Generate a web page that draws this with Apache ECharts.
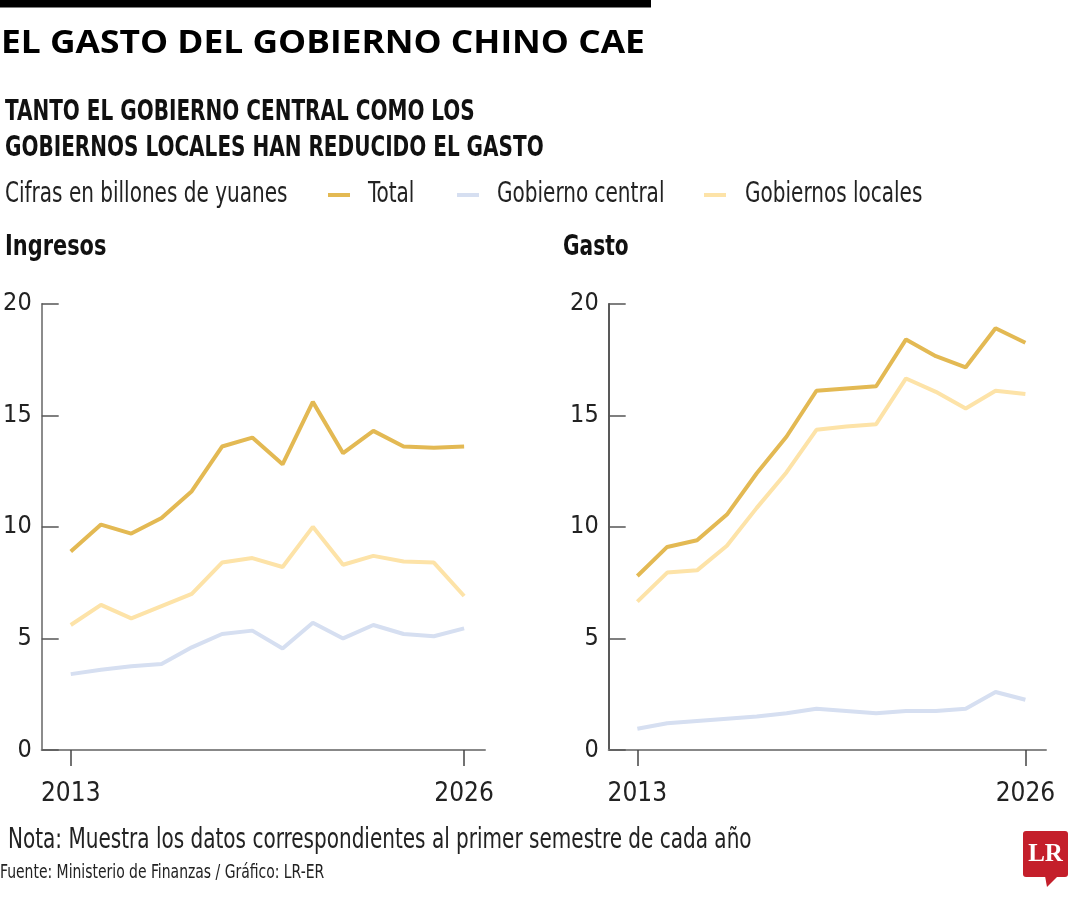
<!DOCTYPE html>
<html>
<head>
<meta charset="utf-8">
<title>El gasto del gobierno chino cae</title>
<script src="https://cdn.jsdelivr.net/npm/echarts@6.0.0/dist/echarts.min.js"></script>
<style>
    html, body { margin: 0; padding: 0; background: #fff; }
    #chart { width: 1080px; height: 900px; }
</style>
</head>
<body>
<div id="chart"></div>
<script>
    // datos: primer semestre de cada año, billones de yuanes
    var years = [2013, 2014, 2015, 2016, 2017, 2018, 2019, 2020, 2021, 2022, 2023, 2024, 2025, 2026];
    var yearTicks = [2013, 2026];

    var ingresosTotal   = [8.9, 10.1, 9.7, 10.4, 11.6, 13.6, 14.0, 12.8, 15.6, 13.3, 14.3, 13.6, 13.55, 13.6];
    var ingresosCentral = [3.4, 3.6, 3.75, 3.85, 4.6, 5.2, 5.35, 4.55, 5.7, 5.0, 5.6, 5.2, 5.1, 5.45];
    var ingresosLocales = [5.6, 6.5, 5.9, 6.45, 7.0, 8.4, 8.6, 8.2, 10.0, 8.3, 8.7, 8.45, 8.4, 6.9];

    var gastoTotal   = [7.8, 9.1, 9.4, 10.55, 12.4, 14.05, 16.1, 16.2, 16.3, 18.4, 17.65, 17.15, 18.9, 18.25];
    var gastoCentral = [0.95, 1.2, 1.3, 1.4, 1.5, 1.65, 1.85, 1.75, 1.65, 1.75, 1.75, 1.85, 2.6, 2.25];
    var gastoLocales = [6.65, 7.95, 8.05, 9.15, 10.85, 12.45, 14.35, 14.5, 14.6, 16.65, 16.05, 15.3, 16.1, 15.95];

    var NARROW = '"DejaVu Sans Condensed", "Liberation Sans Narrow", sans-serif';
    var SQ = 0.795; // apretar el texto como una condensada
    var colTotal = '#e3b953';
    var colCentral = '#d6dff1';
    var colLocales = '#fde3a8';

    function pairs(vals) {
        return years.map(function (y, i) { return [y, vals[i]]; });
    }

    function line(name, vals, color, idx) {
        return {
            name: name,
            type: 'line',
            xAxisIndex: idx,
            yAxisIndex: idx,
            data: pairs(vals),
            symbol: 'none',
            color: color,
            lineStyle: { color: color, width: 4 },
            emphasis: { disabled: true }
        };
    }

    function xAxis(idx) {
        return {
            type: 'value',
            gridIndex: idx,
            min: 2012.04,
            max: 2026.69,
            splitLine: { show: false },
            axisLine: { lineStyle: { color: '#888', width: 2 } },
            axisTick: { customValues: yearTicks, length: 16, lineStyle: { color: '#444', width: 1.5 } },
            axisLabel: {
                customValues: yearTicks,
                margin: 31,
                color: '#222',
                fontFamily: NARROW,
                fontSize: 26,
                formatter: function (v) { return String(v); }
            }
        };
    }

    function yAxis(idx, lineColor) {
        return {
            type: 'value',
            gridIndex: idx,
            min: 0,
            max: 20,
            interval: 5,
            splitLine: { show: false },
            axisLine: { show: true, lineStyle: { color: lineColor, width: 1.5 } },
            axisTick: { show: true, inside: true, length: 17, lineStyle: { color: '#555', width: 1.5 } },
            axisLabel: { margin: 10, color: '#222', fontFamily: NARROW, fontSize: 25 }
        };
    }

    function txt(x, y, text, font, color, sx) {
        return {
            type: 'text',
            x: x,
            y: y,
            scaleX: sx || 1,
            silent: true,
            style: { text: text, font: font, fill: color || '#111', textVerticalAlign: 'middle' }
        };
    }

    function key(x, color, label, tx) {
        return [
            { type: 'rect', silent: true, shape: { x: x, y: 193, width: 22, height: 4 }, style: { fill: color } },
            txt(tx, 195, label, '28px ' + NARROW, '#222', SQ)
        ];
    }

    var chart = echarts.init(document.getElementById('chart'), null, { renderer: 'canvas' });

    var option = {
        backgroundColor: '#fff',
        animation: false,
        textStyle: { fontFamily: NARROW },
        grid: [
            { left: 41.7, top: 303.7, width: 443.3, height: 446.3, outerBoundsMode: 'none' },
            { left: 608.7, top: 303.7, width: 437.3, height: 446.3, outerBoundsMode: 'none' }
        ],
        xAxis: [xAxis(0), xAxis(1)],
        yAxis: [yAxis(0, '#666'), yAxis(1, '#222')],
        series: [
            line('Gobierno central', ingresosCentral, colCentral, 0),
            line('Gobiernos locales', ingresosLocales, colLocales, 0),
            line('Total', ingresosTotal, colTotal, 0),
            line('Gobierno central', gastoCentral, colCentral, 1),
            line('Gobiernos locales', gastoLocales, colLocales, 1),
            line('Total', gastoTotal, colTotal, 1)
        ],
        graphic: [
            { type: 'rect', silent: true, shape: { x: 0, y: 0, width: 651, height: 7.5 }, style: { fill: '#000' } },
            txt(1, 44, 'EL GASTO DEL GOBIERNO CHINO CAE', 'bold 32px "Open Sans", sans-serif', '#000', 1.105),
            txt(5, 113, 'TANTO EL GOBIERNO CENTRAL COMO LOS', 'bold 28px ' + NARROW, '#111', SQ),
            txt(5, 148.5, 'GOBIERNOS LOCALES HAN REDUCIDO EL GASTO', 'bold 28px ' + NARROW, '#111', SQ),
            txt(5, 195, 'Cifras en billones de yuanes', '28px ' + NARROW, '#222', SQ),
            txt(5, 248, 'Ingresos', 'bold 28px ' + NARROW, '#111', 0.83),
            txt(563, 248, 'Gasto', 'bold 28px ' + NARROW, '#111', 0.8),
            txt(8, 841, 'Nota: Muestra los datos correspondientes al primer semestre de cada año', '28px ' + NARROW, '#222', SQ),
            txt(0, 873, 'Fuente: Ministerio de Finanzas / Gráfico: LR-ER', '20px ' + NARROW, '#222', 0.775),
            // logo LR
            { type: 'rect', silent: true, shape: { x: 1023, y: 831, width: 45, height: 46, r: 3 }, style: { fill: '#c41f2b' } },
            { type: 'polygon', silent: true, shape: { points: [[1045, 876], [1058, 876], [1047, 887]] }, style: { fill: '#c41f2b' } },
            {
                type: 'text', x: 1045.5, y: 855, silent: true,
                style: { text: 'LR', font: 'bold 25px "Liberation Serif", "DejaVu Serif", serif', fill: '#fff', textAlign: 'center', textVerticalAlign: 'middle' }
            }
        ].concat(
            key(328, colTotal, 'Total', 368),
            key(457, colCentral, 'Gobierno central', 497),
            key(704, colLocales, 'Gobiernos locales', 745)
        )
    };

    chart.setOption(option);
    window.addEventListener('resize', function () {
        chart.resize();
    });
</script>
</body>
</html>
